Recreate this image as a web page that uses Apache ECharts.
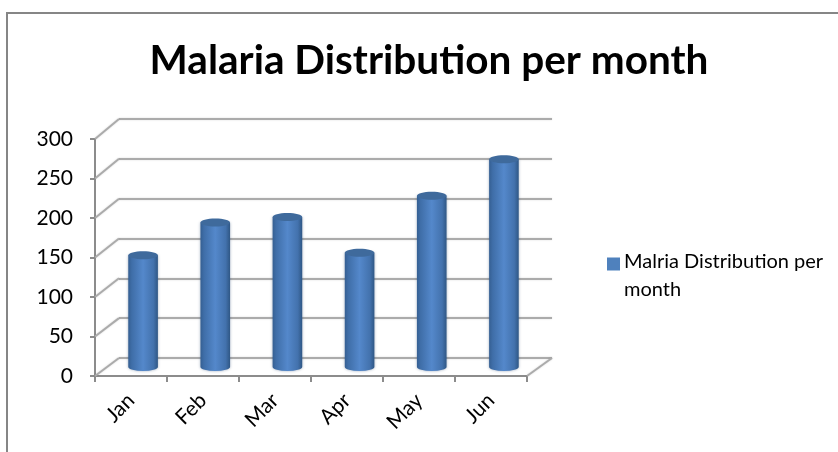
<!DOCTYPE html>
<html><head><meta charset="utf-8">
<style>html,body{margin:0;padding:0;background:#fff}#c{width:838px;height:452px}</style>
<script src="https://cdn.jsdelivr.net/npm/echarts@6/dist/echarts.min.js"></script>
</head><body><div id="c"></div>
<script>
const categories = ['Jan','Feb','Mar','Apr','May','Jun'];
const values = [141,182,189,144,216,262];
const yTicks = [0,50,100,150,200,250,300];
const titleText = 'Malaria Distribution per month';
const seriesName = 'Malria Distribution per month';

const FONT = 'Lato, "Open Sans", sans-serif';
const front = {left:95, top:139, width:432, height:237};
const mid   = {left:107, top:129, width:433, height:238};
const back  = {left:119, top:119, width:433, height:239};
const gridColor = '#ababab', axisColor = '#8c8c8c';

const chart = echarts.init(document.getElementById('c'), null, {renderer:'canvas'});

function backY(v){ return back.top + (1 - v/300) * back.height; }

function renderDepth(params, api){
  const v = api.value(0);
  const p = api.coord([0, v]);
  const x0 = params.coordSys.x, x1 = x0 + params.coordSys.width;
  const lineStyle = {stroke:gridColor, lineWidth:2, fill:null, shadowBlur:2, shadowColor:'rgba(0,0,0,0.15)'};
  const children = [{type:'line', shape:{x1:x0, y1:p[1], x2:back.left, y2:backY(v)}, style:lineStyle}];
  if (v === 0) children.push({type:'line', shape:{x1:x1, y1:p[1], x2:back.left+back.width, y2:backY(v)}, style:lineStyle});
  return {type:'group', children};
}

function renderCylinder(params, api){
  const top = api.coord([api.value(0), api.value(1)]);
  const base = api.coord([api.value(0), 0]);
  const w = api.size([1,0])[0] * 0.41, rx = w/2, ry = 4;
  const cx = top[0], l = cx - rx;
  const body = new echarts.graphic.LinearGradient(0,0,1,0,[
    {offset:0, color:'#355f92'},{offset:0.12, color:'#3f6ea8'},
    {offset:0.5, color:'#5488cb'},{offset:0.85, color:'#4372ad'},{offset:1, color:'#2f5785'}]);
  return {type:'group', children:[
    {type:'path', shape:{d:`M${l} ${top[1]}L${l} ${base[1]}A${rx} ${ry} 0 0 0 ${l+w} ${base[1]}L${l+w} ${top[1]}Z`,
      x:l, y:top[1], width:w, height:base[1]-top[1]+ry},
      style:{fill:body, shadowBlur:3, shadowColor:'rgba(40,70,110,0.45)'}},
    {type:'ellipse', shape:{cx, cy:top[1], rx, ry}, style:{fill:'#3f6a9c'}}
  ]};
}

chart.setOption({
  animation:false,
  backgroundColor:'#fff',
  title:{text:titleText, left:424, top:35, textAlign:'center',
    textStyle:{fontFamily:FONT, fontWeight:'bold', fontSize:40.5, color:'#000'}},
  legend:{left:602, top:243, orient:'vertical', itemGap:0, itemWidth:13, itemHeight:40,
    icon:'path://M0 3H13V16H0Z M0 40H0.01V40.01H0Z',
    itemStyle:{color:'#4f81bd'}, selectedMode:false,
    formatter:()=> 'Malria Distribution per\nmonth',
    textStyle:{fontFamily:FONT, fontSize:20, color:'#000', lineHeight:28, padding:[0,0,0,-1]},
    data:[seriesName]},
  grid:[
    {left:front.left, top:front.top, width:front.width, height:front.height},
    {left:mid.left, top:mid.top, width:mid.width, height:mid.height},
    {left:back.left, top:back.top, width:back.width, height:back.height}
  ],
  xAxis:[
    {gridIndex:0, type:'category', data:categories,
      axisLine:{lineStyle:{color:axisColor, width:2}},
      axisTick:{show:true, length:6, lineStyle:{color:axisColor, width:2}, alignWithLabel:false},
      axisLabel:{rotate:45, margin:21, interval:0, fontFamily:FONT, fontSize:21, color:'#000'}},
    {gridIndex:1, type:'category', data:categories, show:false},
    {gridIndex:2, type:'category', data:categories,
      axisLine:{show:false}, axisTick:{show:false}, axisLabel:{show:false}, splitLine:{show:false}}
  ],
  yAxis:[
    {gridIndex:0, type:'value', min:0, max:300, interval:50,
      axisLine:{show:true, lineStyle:{color:axisColor, width:2}},
      axisTick:{show:true, length:5, lineStyle:{color:axisColor, width:2}},
      axisLabel:{margin:22, fontFamily:FONT, fontSize:21, color:'#000'},
      splitLine:{show:false}},
    {gridIndex:1, type:'value', min:0, max:300, interval:50, show:false},
    {gridIndex:2, type:'value', min:0, max:300, interval:50,
      axisLine:{show:false}, axisTick:{show:false}, axisLabel:{show:false},
      splitLine:{show:true, lineStyle:{color:gridColor, width:2, shadowBlur:2, shadowColor:'rgba(0,0,0,0.15)'}}}
  ],
  graphic:[
    {type:'polyline', silent:true, z:-1, shape:{points:[[7,452],[7,13],[838,13]]},
      style:{stroke:'#868686', lineWidth:2, fill:null}}
  ],
  series:[
    {type:'custom', name:'depth', xAxisIndex:0, yAxisIndex:0, z:1, silent:true,
      data:yTicks.map(v=>[v]), renderItem:renderDepth, encode:{y:0}},
    {type:'custom', name:seriesName, xAxisIndex:1, yAxisIndex:1, z:5, clip:false,
      itemStyle:{color:'#4f81bd'},
      data:categories.map((c,i)=>[i, values[i]]), renderItem:renderCylinder, encode:{x:0,y:1}}
  ]
});
</script></body></html>
